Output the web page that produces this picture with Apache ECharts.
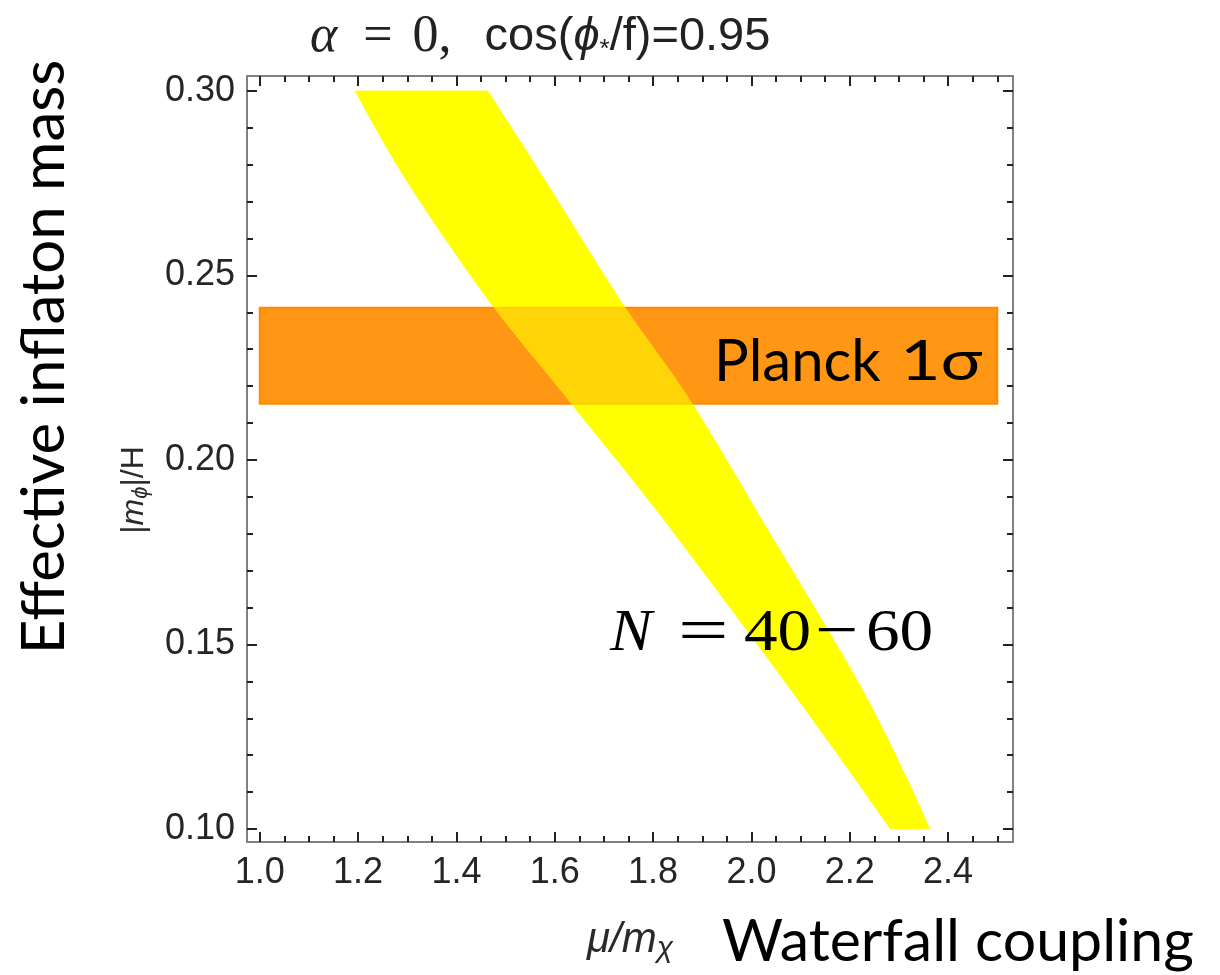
<!DOCTYPE html>
<html>
<head>
<meta charset="utf-8">
<script src="https://cdn.jsdelivr.net/npm/echarts@6/dist/echarts.min.js"></script>
<style>html,body{margin:0;padding:0;background:#fff}#c{width:1220px;height:975px}</style>
</head>
<body>
<div id="c"></div>
<script>
// ---- data ----
const xMajorTicks = [1.0, 1.2, 1.4, 1.6, 1.8, 2.0, 2.2, 2.4];
const xMinorTicks = [1.0, 1.05, 1.1, 1.15, 1.2, 1.25, 1.3, 1.35, 1.4, 1.45, 1.5, 1.55, 1.6, 1.65, 1.7, 1.75, 1.8, 1.85, 1.9, 1.95, 2.0, 2.05, 2.1, 2.15, 2.2, 2.25, 2.3, 2.35, 2.4, 2.45, 2.5];
const yMajorTicks = [0.10, 0.15, 0.20, 0.25, 0.30];
const yMinorTicks = [0.10, 0.11, 0.12, 0.13, 0.14, 0.15, 0.16, 0.17, 0.18, 0.19, 0.20, 0.21, 0.22, 0.23, 0.24, 0.25, 0.26, 0.27, 0.28, 0.29, 0.30];

// N = 40-60 band: edges sampled at these mass values
const bandY      = [0.30, 0.2759, 0.2434, 0.2163, 0.1837, 0.1404, 0.1133, 0.10];
const bandLeftX  = [1.193, 1.297, 1.464, 1.627, 1.822, 2.065, 2.212, 2.282];
const bandRightX = [1.464, 1.580, 1.733, 1.875, 2.022, 2.215, 2.318, 2.363];

// Planck 1 sigma band
const planckX = [1.0, 2.5];
const planckY = [0.2152, 0.2412];

const xRange = [0.974, 2.532];
const yRange = [0.0965, 0.304];

// ---- chart ----
const chart = echarts.init(document.getElementById('c'));
const tickLabelFont = {fontFamily: 'Liberation Sans', fontSize: 36, color: '#262626'};

function mkX(pos, ticks, len, showLabel, showLine) {
  return {
    type: 'value', position: pos, min: xRange[0], max: xRange[1],
    axisLine: {show: showLine, onZero: false, lineStyle: {color: '#808080', width: 2}},
    axisTick: {show: true, inside: true, length: len, customValues: ticks, lineStyle: {color: '#222', width: 2}},
    axisLabel: showLabel ? Object.assign({show: true, margin: 13, customValues: xMajorTicks,
      formatter: v => v.toFixed(1)}, tickLabelFont) : {show: false},
    splitLine: {show: false}
  };
}
function mkY(pos, ticks, len, showLabel, showLine) {
  return {
    type: 'value', position: pos, min: yRange[0], max: yRange[1],
    axisLine: {show: showLine, onZero: false, lineStyle: {color: '#808080', width: 2}},
    axisTick: {show: true, inside: true, length: len, customValues: ticks, lineStyle: {color: '#222', width: 2}},
    axisLabel: showLabel ? Object.assign({show: true, margin: 12, customValues: yMajorTicks,
      formatter: v => v.toFixed(2)}, tickLabelFont) : {show: false},
    splitLine: {show: false}
  };
}

// Catmull-Rom smoothing of an edge given in pixel coordinates (rendering only)
function smoothEdge(pts) {
  const out = [];
  const n = pts.length;
  for (let i = 0; i < n - 1; i++) {
    const p0 = pts[Math.max(i - 1, 0)], p1 = pts[i], p2 = pts[i + 1], p3 = pts[Math.min(i + 2, n - 1)];
    for (let k = 0; k < 12; k++) {
      const t = k / 12, t2 = t * t, t3 = t2 * t;
      const f = (a, b, c, d) => 0.5 * ((2 * b) + (-a + c) * t + (2 * a - 5 * b + 4 * c - d) * t2 + (-a + 3 * b - 3 * c + d) * t3);
      out.push([f(p0[0], p1[0], p2[0], p3[0]), f(p0[1], p1[1], p2[1], p3[1])]);
    }
  }
  out.push(pts[n - 1]);
  return out;
}

function yellowPoly(opacity) {
  return {
    type: 'custom', xAxisIndex: 0, yAxisIndex: 0, data: [[0]], silent: true,
    renderItem: function (params, api) {
      const left = [], right = [];
      for (let i = 0; i < bandY.length; i++) {
        left.push(api.coord([bandLeftX[i], bandY[i]]));
        right.push(api.coord([bandRightX[i], bandY[i]]));
      }
      const pts = smoothEdge(left).concat(smoothEdge(right).reverse());
      return {type: 'polygon', shape: {points: pts}, style: {fill: '#ffff00', opacity: opacity}};
    }
  };
}

function mathText(x, txt, size, sx, italic) {
  return {type: 'text', z: 100, x: x, y: 634, scaleX: sx, style: {x: 0, y: 0, align: 'left', verticalAlign: 'middle',
    text: txt, fontFamily: 'Liberation Serif', fontStyle: italic ? 'italic' : 'normal', fontSize: size, fill: '#000'}};
}

const option = {
  animation: false,
  backgroundColor: '#fff',
  grid: {left: 247, top: 76, right: 207, bottom: 133, containLabel: false},
  xAxis: [
    mkX('bottom', xMajorTicks, 10, true, true),
    mkX('bottom', xMinorTicks, 6, false, false),
    mkX('top', xMajorTicks, 10, false, true),
    mkX('top', xMinorTicks, 6, false, false)
  ],
  yAxis: [
    mkY('left', yMajorTicks, 10, true, true),
    mkY('left', yMinorTicks, 6, false, false),
    mkY('right', yMajorTicks, 10, false, true),
    mkY('right', yMinorTicks, 6, false, false)
  ],
  series: [
    yellowPoly(1),
    {
      type: 'custom', xAxisIndex: 0, yAxisIndex: 0, data: [[0]], silent: true,
      renderItem: function (params, api) {
        const p0 = api.coord([planckX[0], planckY[1]]);
        const p1 = api.coord([planckX[1], planckY[0]]);
        return {type: 'rect', shape: {x: p0[0], y: p0[1], width: p1[0] - p0[0], height: p1[1] - p0[1]},
          style: {fill: '#ff9614', stroke: '#ff8a00', lineWidth: 2}};
      }
    },
    yellowPoly(0.6)
  ],
  graphic: [
    {type: 'text', style: {
      x: 310, y: 37, align: 'left', verticalAlign: 'middle',
      text: '{a|α}{e|=}{b|0,}{c|cos(}{p|ϕ}{s|*}{c|/f)=0.95}',
      rich: {
        a: {fontFamily: 'Liberation Serif', fontStyle: 'italic', fontSize: 52, fill: '#222'},
        e: {fontFamily: 'Liberation Serif', fontSize: 52, fill: '#222', padding: [0, 20, 0, 26]},
        b: {fontFamily: 'Liberation Serif', fontSize: 52, fill: '#222', padding: [0, 33, 0, 0]},
        c: {fontFamily: 'Liberation Sans', fontSize: 47, fill: '#222'},
        p: {fontFamily: 'Liberation Sans', fontStyle: 'italic', fontSize: 47, fill: '#222'},
        s: {fontFamily: 'Liberation Sans', fontSize: 26, fill: '#222', verticalAlign: 'bottom', padding: [17, 0, 0, 0]}
      }
    }},
    {type: 'text', style: {
      x: 630, y: 940, align: 'center', verticalAlign: 'middle',
      text: '{m|μ/m}{s|χ}',
      rich: {
        m: {fontFamily: 'Liberation Sans', fontStyle: 'italic', fontSize: 42, fill: '#2a2a2a'},
        s: {fontFamily: 'Liberation Sans', fontStyle: 'italic', fontSize: 30, fill: '#2a2a2a', padding: [18, 0, 0, 0]}
      }
    }},
    {type: 'text', style: {
      x: 722, y: 942, align: 'left', verticalAlign: 'middle',
      text: 'Waterfall coupling', fontFamily: 'Lato', fontSize: 59, fill: '#000'
    }},
    {type: 'text', x: 45, y: 357, rotation: Math.PI / 2, style: {
      x: 0, y: 0, align: 'center', verticalAlign: 'middle',
      text: 'Effective inflaton mass', fontFamily: 'Lato', fontSize: 60, fill: '#000'
    }},
    {type: 'text', x: 134, y: 490, rotation: Math.PI / 2, style: {
      x: 0, y: 0, align: 'center', verticalAlign: 'middle',
      text: '{b||}{m|m}{s|ϕ}{b||/H}',
      rich: {
        b: {fontFamily: 'Liberation Sans', fontSize: 32, fill: '#2a2a2a'},
        m: {fontFamily: 'Liberation Sans', fontStyle: 'italic', fontSize: 32, fill: '#2a2a2a'},
        s: {fontFamily: 'Liberation Sans', fontStyle: 'italic', fontSize: 22, fill: '#2a2a2a', padding: [14, 0, 0, 0]}
      }
    }},
    {type: 'text', z: 100, style: {
      x: 714, y: 362, align: 'left', verticalAlign: 'middle',
      text: 'Planck', fontFamily: 'Lato', fontSize: 58, fill: '#000'
    }},
    {type: 'text', z: 100, x: 900, y: 362, scaleX: 1.25, style: {
      x: 0, y: 0, align: 'left', verticalAlign: 'middle',
      text: '1σ', fontFamily: 'Lato', fontSize: 56, fill: '#000'
    }},
    mathText(610, 'N', 60, 1.05, true),
    mathText(678, '=', 64, 1.4, false),
    mathText(744, '40', 60, 1.12, false),
    mathText(815, '−', 64, 1.2, false),
    mathText(866, '60', 60, 1.12, false)
  ]
};
chart.setOption(option);
</script>
</body>
</html>
